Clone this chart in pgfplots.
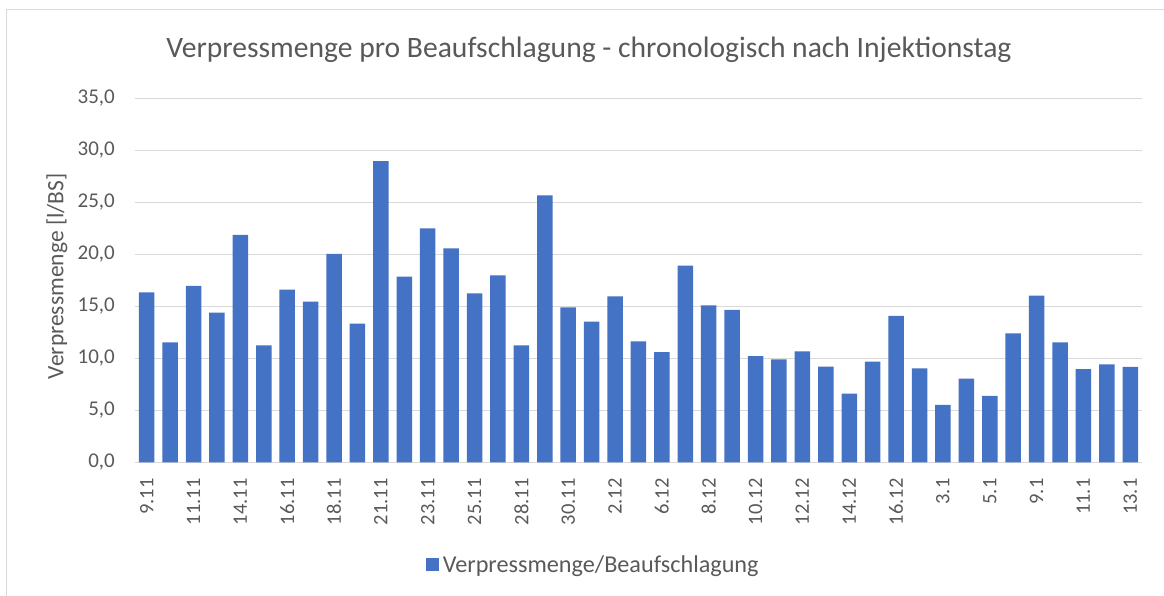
\documentclass[border=0pt]{standalone}
\usepackage{pgfplots}
\pgfplotsset{compat=1.18}
\usepackage{fontspec}
\setmainfont{Carlito}
\definecolor{barblue}{HTML}{4472C4}
\definecolor{txt}{HTML}{595959}
\definecolor{grd}{HTML}{D9D9D9}
\begin{document}
\begin{tikzpicture}[x=1pt,y=1pt]
\useasboundingbox (0,0) rectangle (1164,596);
\draw[grd, line width=1.3pt] (6.7,-30) -- (6.7,586.7) -- (1200,586.7);
\begin{axis}[
  at={(135pt,133.7pt)}, anchor=south west,
  scale only axis, width=1007pt, height=364pt,
  xmin=-0.5, xmax=42.5, ymin=0, ymax=35,
  ytick={0,5,...,35},
  xtick={0,2,...,42},
  xticklabels={9.11,11.11,14.11,16.11,18.11,21.11,23.11,25.11,28.11,30.11,2.12,6.12,8.12,10.12,12.12,14.12,16.12,3.1,5.1,9.1,11.1,13.1},
  ymajorgrids, grid style={grd, line width=1.3pt},
  axis line style={draw=none},
  major tick length=0pt,
  /pgf/number format/assume math mode=true,
  yticklabel={\pgfmathprintnumber[fixed, fixed zerofill, precision=1, use comma]{\tick}},
  yticklabel style={font=\fontsize{21}{24}\selectfont, text=txt, anchor=east, inner sep=0pt},
  yticklabel shift=20pt,
  xticklabel style={font=\fontsize{20.5}{24}\selectfont, text=txt, rotate=90, anchor=east, inner sep=0pt},
  xticklabel shift=16pt,
  ylabel={Verpressmenge [l/BS]},
  every axis y label/.style={at={(-78pt,186pt)}, rotate=90, anchor=center, font=\fontsize{23.5}{27}\selectfont, text=txt},
  title={Verpressmenge pro Beaufschlagung - chronologisch nach Injektionstag},
  every axis title/.style={at={(454pt,413pt)}, anchor=center, font=\fontsize{29.6}{34}\selectfont, text=txt},
  legend style={at={(0.456,-0.282)}, anchor=center, draw=none, fill=none,
    font=\fontsize{24.2}{28}\selectfont, text=txt, inner sep=0pt,
    nodes={inner sep=3.5pt}},
  legend image code/.code={\fill[#1,draw=none] (0pt,-6.5pt) rectangle (13pt,6.5pt);},
]
\addplot[ybar, bar width=15.5pt, fill=barblue, draw=none] coordinates {
(0,16.35) (1,11.54) (2,16.96) (3,14.39) (4,21.86) (5,11.25) (6,16.6) (7,15.45)
(8,20.03) (9,13.33) (10,28.97) (11,17.85) (12,22.5) (13,20.58) (14,16.25) (15,17.98)
(16,11.25) (17,25.67) (18,14.9) (19,13.53) (20,15.96) (21,11.63) (22,10.6) (23,18.91)
(24,15.1) (25,14.65) (26,10.22) (27,9.9) (28,10.67) (29,9.2) (30,6.6) (31,9.68)
(32,14.07) (33,9.04) (34,5.51) (35,8.04) (36,6.38) (37,12.4) (38,16.03) (39,11.54)
(40,8.97) (41,9.42) (42,9.17)
};
\addlegendentry{Verpressmenge/Beaufschlagung}
\end{axis}
\end{tikzpicture}
\end{document}
